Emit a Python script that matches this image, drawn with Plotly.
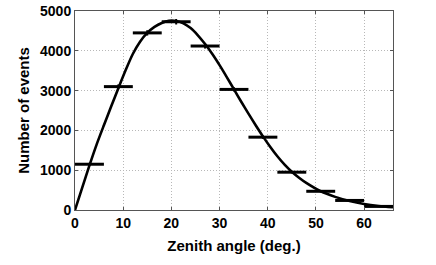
import plotly.graph_objects as go

# Histogram bins (zenith angle, deg.) and counts
bin_left = [0, 6, 12, 18, 24, 30, 36, 42, 48, 54, 60]
bin_width = 6
counts = [1150, 3100, 4450, 4730, 4120, 3030, 1830, 950, 470, 240, 90]
count_err = [34, 56, 67, 69, 64, 55, 43, 31, 22, 15, 9]

# Smooth model curve
curve_x = [0, 1.5, 3, 4.5, 6, 7.5, 9, 10.5, 12, 13.5, 15, 16.5, 18, 19.5, 21, 22.5, 24,
           25.5, 27, 28.5, 30, 31.5, 33, 34.5, 36, 37.5, 39, 40.5, 42, 43.5, 45, 46.5, 48,
           51, 54, 57, 60, 63, 66]
curve_y = [0, 560, 1120, 1650, 2130, 2600, 3060, 3510, 3920, 4230, 4450, 4600, 4700, 4755,
           4750, 4690, 4570, 4390, 4170, 3920, 3640, 3340, 3030, 2720, 2420, 2130, 1850,
           1590, 1350, 1140, 960, 810, 680, 470, 330, 225, 150, 100, 68]

x_ticks = [0, 10, 20, 30, 40, 50, 60]
y_ticks = [0, 1000, 2000, 3000, 4000, 5000]

centers = [l + bin_width / 2 for l in bin_left]
half = [bin_width / 2] * len(bin_left)

FONT = "Liberation Sans, Arial, sans-serif"
AX = "#555555"

fig = go.Figure()
fig.add_trace(go.Scatter(
    x=curve_x, y=curve_y, mode="lines",
    line=dict(color="black", width=2.6, shape="spline", smoothing=0.8),
    cliponaxis=True, showlegend=False, hoverinfo="skip"))
fig.add_trace(go.Scatter(
    x=centers, y=counts, mode="markers",
    marker=dict(size=1, color="rgba(0,0,0,0)"),
    error_x=dict(type="data", array=half, symmetric=True, thickness=3, width=0, color="black"),
    error_y=dict(type="data", array=count_err, symmetric=True, thickness=2, width=0, color="black"),
    showlegend=False))

axis_common = dict(
    showline=True, linecolor=AX, linewidth=1, mirror="ticks",
    ticks="inside", ticklen=3, tickcolor=AX,
    showgrid=True, gridcolor="#b8b8b8", griddash="1px,2px", gridwidth=1,
    zeroline=False, automargin=False,
    tickfont=dict(family=FONT, size=14, color="black", weight="bold"),
)

fig.update_layout(
    width=436, height=265,
    margin=dict(l=75, r=43, t=11, b=55),
    paper_bgcolor="white", plot_bgcolor="white",
    xaxis=dict(range=[0, 66], tickvals=x_ticks, ticktext=[str(v) for v in x_ticks],
               title=dict(text="Zenith angle (deg.)", standoff=10,
                          font=dict(family=FONT, size=15, color="black", weight="bold")),
               **axis_common),
    yaxis=dict(range=[0, 5000], tickvals=y_ticks, ticktext=[str(v) for v in y_ticks],
               title=dict(text="Number of events", standoff=6,
                          font=dict(family=FONT, size=15, color="black", weight="bold")),
               **axis_common),
)

# remove the default 8px page margin so the figure sits at the window's corner
fig.write_html("out.html",
               config={"displayModeBar": False},
               post_script="document.body.style.margin='0px';document.body.style.overflow='hidden';")
